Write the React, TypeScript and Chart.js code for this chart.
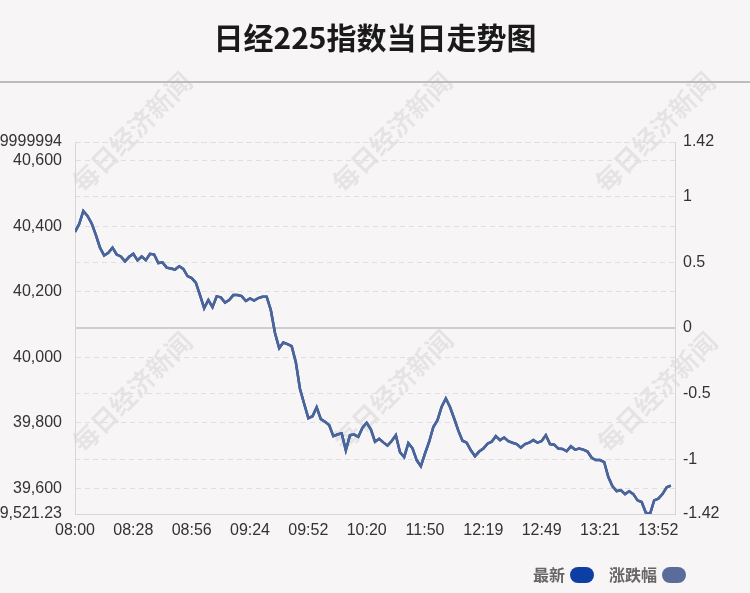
import React, { useEffect, useRef } from 'react';
import { Chart, registerables } from 'chart.js';

Chart.register(...registerables);

const TITLE = '日经225指数当日走势图';
const WATERMARK = '每日经济新闻';
const SERIES_NAMES = ['最新', '涨跌幅'];
const SERIES_COLORS = ['#0d3ea3', '#5a6d9a'];
const LINE_COLOR = '#4c6599';
const BG = '#f8f5f7';

const PREV_CLOSE = 40089.48;
const Y_MIN = 39521.23;
const Y_MAX = 40657.73;

// one sample every 2 minutes of trading (index units on the x axis)
const STEP_MIN = 2;
const X_MAX = 288;
const X_TICK_EVERY = 28;
const xTickLabels = ['08:00', '08:28', '08:56', '09:24', '09:52', '10:20', '11:50', '12:19', '12:49', '13:21', '13:52'];

const leftTickValues = [Y_MIN, 39600, 39800, 40000, 40200, 40400, 40600, Y_MAX];
const leftTickLabels = ['39,521.23', '39,600', '39,800', '40,000', '40,200', '40,400', '40,600', '40,657.7299999994'];
const rightTickLabels = ['-1.42', '-1', '-0.5', '0', '0.5', '1', '1.42'];
const rightTickInner = [-1, -0.5, 0, 0.5, 1];

const prices = [
  40383, 40407, 40447, 40432, 40409, 40374, 40335, 40311, 40319, 40335,
  40314, 40308, 40293, 40307, 40316, 40296, 40308, 40297, 40316, 40314,
  40288, 40290, 40274, 40271, 40268, 40278, 40270, 40248, 40242, 40228,
  40190, 40150, 40175, 40153, 40186, 40183, 40167, 40175, 40190, 40190,
  40187, 40172, 40180, 40173, 40181, 40185, 40185, 40144, 40074, 40028,
  40045, 40040, 40034, 39985, 39903, 39858, 39814, 39820, 39847, 39811,
  39803, 39793, 39759, 39764, 39768, 39716, 39762, 39764, 39757, 39785,
  39800, 39780, 39742, 39751, 39740, 39730, 39744, 39762, 39710, 39695,
  39738, 39722, 39686, 39667, 39706, 39742, 39787, 39808, 39849, 39874,
  39848, 39813, 39776, 39745, 39739, 39716, 39698, 39712, 39721, 39736,
  39742, 39759, 39747, 39755, 39744, 39739, 39735, 39724, 39735, 39739,
  39747, 39739, 39744, 39762, 39735, 39733, 39721, 39720, 39713, 39728,
  39718, 39721, 39718, 39712, 39693, 39686, 39686, 39680, 39634, 39606,
  39591, 39594, 39582, 39591, 39582, 39563, 39558, 39525, 39521.23, 39563,
  39568, 39582, 39603, 39608,
];

const toPct = (v: number) => ((v - PREV_CLOSE) / PREV_CLOSE) * 100;

const FONT = '"Liberation Sans", Arial, sans-serif';
const CJK = '"Noto Sans CJK SC", "Noto Sans", sans-serif';

const decor = {
  id: 'decor',
  beforeDraw(chart: any) {
    const { ctx, width, height } = chart;
    ctx.save();
    ctx.fillStyle = BG;
    ctx.fillRect(0, 0, width, height);
    ctx.font = `bold 26px ${CJK}`;
    ctx.fillStyle = 'rgba(0,0,0,0.07)';
    ctx.textAlign = 'center';
    ctx.textBaseline = 'middle';
    const marks = [
      [132, 132], [392, 132], [655, 132],
      [132, 392], [393, 390], [657, 392],
    ];
    for (const [mx, my] of marks) {
      ctx.save();
      ctx.translate(mx, my);
      ctx.rotate(-Math.PI / 4);
      ctx.fillText(WATERMARK, 0, 0);
      ctx.restore();
    }
    ctx.font = `bold 30px ${CJK}`;
    ctx.fillStyle = '#1a1a1a';
    ctx.fillText(TITLE, width / 2, 38);
    ctx.strokeStyle = '#bcbcbc';
    ctx.lineWidth = 2;
    ctx.beginPath();
    ctx.moveTo(0, 82);
    ctx.lineTo(width, 82);
    ctx.stroke();
    ctx.restore();
  },
  afterDraw(chart: any) {
    const { ctx } = chart;
    ctx.save();
    ctx.font = `bold 16px ${CJK}`;
    ctx.textBaseline = 'middle';
    ctx.textAlign = 'left';
    let x = 533;
    const y = 575;
    chart.data.datasets.forEach((ds: any, i: number) => {
      ctx.fillStyle = '#666';
      ctx.fillText(ds.label, x, y);
      x += ctx.measureText(ds.label).width + 5;
      ctx.fillStyle = SERIES_COLORS[i];
      ctx.beginPath();
      ctx.roundRect(x, y - 8, 24, 16, 8);
      ctx.fill();
      x += 24 + 15;
    });
    ctx.restore();
  },
};

export default function App() {
  const ref = useRef<HTMLCanvasElement | null>(null);

  useEffect(() => {
    document.body.style.margin = '0';
    const canvas = ref.current;
    if (!canvas) return;
    const pctMin = toPct(Y_MIN);
    const pctMax = toPct(Y_MAX);
    const rightTickValues = [pctMin, ...rightTickInner, pctMax];
    const gridDash = [5, 4];
    const chart = new Chart(canvas, {
      type: 'line',
      data: {
        datasets: [
          {
            label: SERIES_NAMES[0],
            data: prices.map((p, i) => ({ x: i * STEP_MIN, y: p })),
            yAxisID: 'y',
            borderColor: SERIES_COLORS[0],
            backgroundColor: SERIES_COLORS[0],
            borderWidth: 2.5,
            pointRadius: 0,
            tension: 0,
            order: 1,
          },
          {
            label: SERIES_NAMES[1],
            data: prices.map((p, i) => ({ x: i * STEP_MIN, y: toPct(p) })),
            yAxisID: 'y1',
            borderColor: LINE_COLOR,
            backgroundColor: SERIES_COLORS[1],
            borderWidth: 2.5,
            pointRadius: 0,
            tension: 0,
            order: 0,
          },
        ],
      },
      options: {
        responsive: false,
        animation: false,
        devicePixelRatio: 1,
        layout: { padding: { top: 142, bottom: 49, left: 0, right: 0 } },
        plugins: {
          legend: { display: false },
          title: { display: false },
          tooltip: { enabled: false },
        },
        scales: {
          x: {
            type: 'linear',
            min: 0,
            max: X_MAX,
            afterBuildTicks: (s: any) => {
              s.ticks = xTickLabels.map((_, i) => ({ value: i * X_TICK_EVERY }));
            },
            afterFit: (s: any) => { s.height = 30; },
            grid: { display: false, drawTicks: false },
            border: { display: true, color: '#d6d6d6', width: 1 },
            ticks: {
              autoSkip: false,
              maxRotation: 0,
              padding: 7,
              color: '#333',
              font: { family: FONT, size: 16 },
              callback: (_v: any, i: number) => xTickLabels[i],
            },
          },
          y: {
            type: 'linear',
            position: 'left',
            min: Y_MIN,
            max: Y_MAX,
            afterBuildTicks: (s: any) => {
              s.ticks = leftTickValues.map((v) => ({ value: v }));
            },
            afterFit: (s: any) => { s.width = 75; },
            grid: { color: '#e0dfe0', lineWidth: 1, drawTicks: false },
            border: { display: true, color: '#d6d6d6', width: 1, dash: gridDash },
            ticks: {
              padding: 13,
              color: '#333',
              font: { family: FONT, size: 16 },
              callback: (_v: any, i: number) => leftTickLabels[i],
            },
          },
          y1: {
            type: 'linear',
            position: 'right',
            min: pctMin,
            max: pctMax,
            afterBuildTicks: (s: any) => {
              s.ticks = rightTickValues.map((v) => ({ value: v }));
            },
            afterFit: (s: any) => { s.width = 75; },
            grid: {
              color: (c: any) => (c.tick && c.tick.value === 0 ? '#cfcfcf' : '#e0dfe0'),
              lineWidth: (c: any) => (c.tick && c.tick.value === 0 ? 2 : 1),
              drawTicks: false,
            },
            border: {
              display: true,
              color: '#d6d6d6',
              width: 1,
              dash: (c: any) => (c.tick && c.tick.value === 0 ? [] : gridDash),
            },
            ticks: {
              padding: 8,
              color: '#333',
              font: { family: FONT, size: 16 },
              callback: (_v: any, i: number) => rightTickLabels[i],
            },
          },
        },
      },
      plugins: [decor],
    } as any);
    return () => chart.destroy();
  }, []);

  return (
    <div style={{ width: 750, height: 593 }}>
      <canvas ref={ref} width={750} height={593} style={{ display: 'block' }} />
    </div>
  );
}
